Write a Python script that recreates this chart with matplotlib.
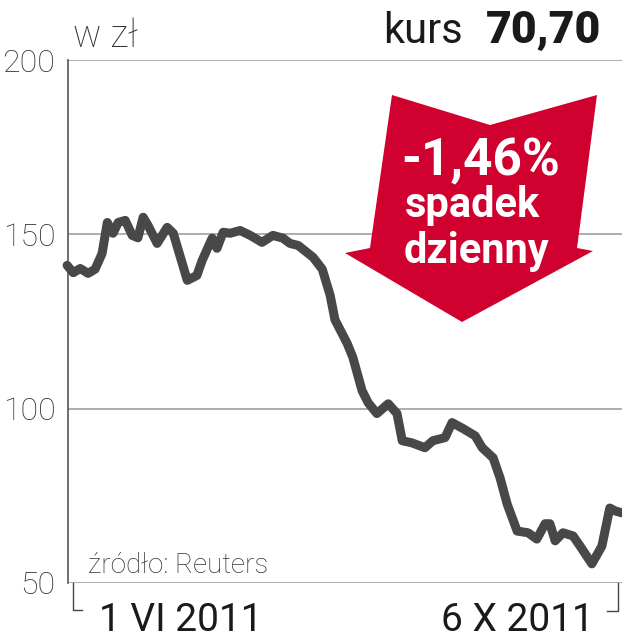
import matplotlib
matplotlib.use("Agg")
import matplotlib.pyplot as plt
from matplotlib.patches import Polygon
from matplotlib.lines import Line2D

# Share price, days since 1 VI 2011
days = [0, 1.4, 3.0, 4.8, 6.4, 8.0, 9.2, 10.5, 11.7, 13.3, 14.9, 16.2, 17.4, 18.5,
        20.6, 22.9, 24.3, 27.5, 29.7, 30.9, 33.2, 34.3, 35.7, 37.3, 39.6, 41.9,
        44.6, 47.1, 49.4, 51.0, 52.9, 54.9, 56.3, 58.4, 60.2, 61.3, 64.1, 65.4,
        67.5, 68.9, 70.9, 73.5, 75.5, 76.7, 78.9, 81.9, 83.7, 86.5, 88.1, 90.6,
        93.4, 95.0, 97.5, 99.1, 100.7, 103.0, 105.5, 107.5, 109.4, 110.5, 111.7,
        113.5, 115.8, 117.4, 120.1, 122.4, 124.2, 125.4, 127.0]
price = [141.1, 139, 140.2, 138.8, 140, 144.5, 153.4, 150.3, 153.4, 154,
         149.7, 149, 154.9, 152.6, 147.4, 152, 150.3, 136.8, 138.2, 142.5,
         148.9, 146, 150.6, 150.3, 151.1, 149.7, 147.7, 149.7, 148.9, 147.4,
         146.8, 144.8, 143.4, 140, 132.5, 125.5, 118.7, 114.7, 105.2, 101.7,
         98.6, 101.4, 98.6, 90.8, 90.2, 88.8, 90.8, 91.7, 96, 94.3,
         92.2, 88.8, 85.9, 80.1, 72.7, 64.9, 64.4, 62.6, 67, 67,
         62.1, 64.4, 63.5, 60.6, 55.5, 60.6, 71.5, 70.7, 70.1]
y_ticks = [50, 100, 150, 200]
date_labels = ["1 VI 2011", "6 X 2011"]
unit_label = "w zł"
last_close = "70,70"
daily_change = "-1,46%"
source = "źródło: Reuters"

W, H = 622, 640
FONT = ["Roboto", "DejaVu Sans"]
plt.rcParams["font.family"] = FONT


def px(x, y):
    # pixel position (from top-left) -> figure fraction
    return x / W, 1 - y / H


fig = plt.figure(figsize=(W / 100, H / 100), dpi=100)
ax = fig.add_axes([68 / W, 1 - 583 / H, (W - 68) / W, (583 - 60) / H])
ax.set_xlim(0.2, 127)
ax.set_ylim(50, 200)

for v in y_ticks:
    ax.axhline(v, color="#a0a0a0", lw=1.2, zorder=1)

ax.plot(days, price, color="#484848", lw=6.5, solid_capstyle="round",
        solid_joinstyle="round", zorder=3, clip_on=False)

for s in ("top", "right", "bottom"):
    ax.spines[s].set_visible(False)
ax.spines["left"].set_color("#555555")
ax.spines["left"].set_linewidth(1.2)
ax.set_xticks([])
ax.set_yticks(y_ticks)
ax.set_yticklabels([str(v) for v in y_ticks], fontsize=23, fontweight="light",
                   color="#333333")
ax.tick_params(axis="y", length=0, pad=9)

# date brackets under the axis
fig.add_artist(Line2D([72.5 / W, 72.5 / W, 82 / W], [1 - 583 / H, 1 - 610 / H, 1 - 610 / H],
                      color="#444444", lw=1.0))
fig.add_artist(Line2D([607 / W, 618 / W, 618 / W], [1 - 611 / H, 1 - 611 / H, 1 - 583 / H],
                      color="#444444", lw=1.0))
fig.text(*px(99, 631), date_labels[0], fontsize=28, color="#1a1a1a",
         ha="left", va="baseline")
fig.text(*px(594, 631), date_labels[1], fontsize=28, color="#1a1a1a",
         ha="right", va="baseline")

fig.text(*px(88, 573), source, fontsize=20, fontweight="light", color="#333333",
         ha="left", va="baseline")
fig.text(*px(73, 47), unit_label, fontsize=27, fontweight="light", color="#333333",
         ha="left", va="baseline")

fig.text(*px(463, 43), "kurs", fontsize=30, color="#1a1a1a", ha="right", va="baseline")
fig.text(*px(601, 43), last_close, fontsize=32, fontweight="heavy", color="#1a1a1a",
         ha="right", va="baseline")

# red "down" arrow
arrow = [(392, 95), (490, 125), (597, 95), (577, 248), (593, 251),
         (462, 322), (345, 253), (370, 248)]
fig.add_artist(Polygon([px(x, y) for x, y in arrow], closed=True,
                       facecolor="#d0002f", edgecolor="none", zorder=5))
fig.text(*px(481, 175), daily_change, fontsize=37, fontweight="bold", color="white",
         ha="center", va="baseline", zorder=6)
fig.text(*px(473, 217), "spadek", fontsize=30, fontweight="bold", color="white",
         ha="center", va="baseline", zorder=6)
fig.text(*px(476, 263), "dzienny", fontsize=30, fontweight="bold", color="white",
         ha="center", va="baseline", zorder=6)

fig.savefig("out.png", dpi=100)
